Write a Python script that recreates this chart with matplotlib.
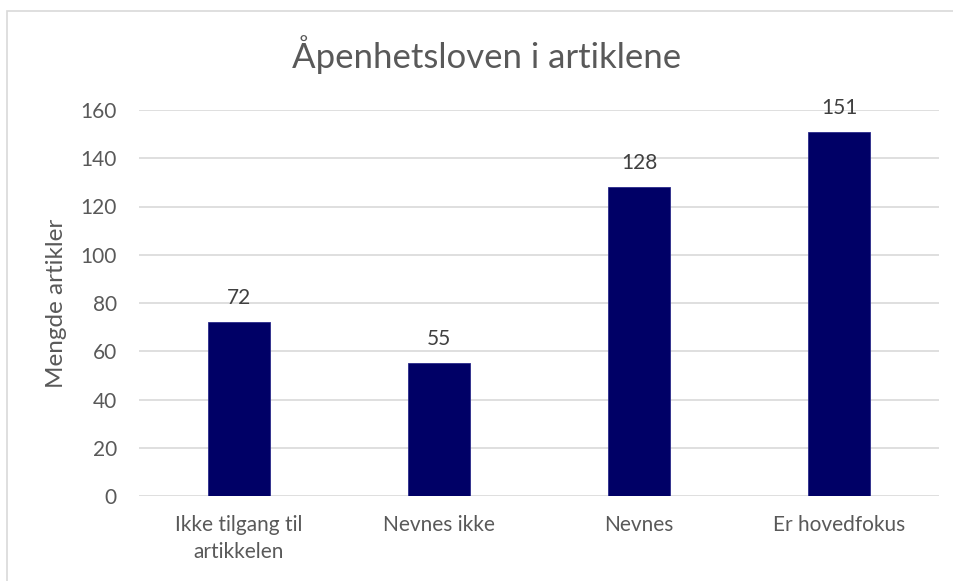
import matplotlib
matplotlib.use("Agg")
import matplotlib.pyplot as plt
from matplotlib.patches import Rectangle

categories = ["Ikke tilgang til\nartikkelen", "Nevnes ikke", "Nevnes", "Er hovedfokus"]
values = [72, 55, 128, 151]
yticks = [0, 20, 40, 60, 80, 100, 120, 140, 160]

W, H = 954, 581
plt.rcParams['font.family'] = ['Lato', 'DejaVu Sans']
fig = plt.figure(figsize=(W/100, H/100), dpi=100)

# chart frame (left and top edges visible)
fig.patches.append(Rectangle((7/W, -0.1), 1.2, 1 - 11/H + 0.1, transform=fig.transFigure,
                             fill=False, edgecolor='#d9d9d9', linewidth=1.2))

ax = fig.add_axes([139/W, 1 - 496/H, 800/W, (496 - 110)/H])
x = range(len(categories))
bars = ax.bar(x, values, width=0.31, color='#000066', edgecolor='#2a2a8a', linewidth=0.6, zorder=3)
ax.set_xlim(-0.5, len(categories) - 0.5)
ax.set_ylim(0, 160)
ax.set_yticks(yticks)
ax.set_yticklabels([str(t) for t in yticks])
ax.set_xticks(list(x))
ax.set_xticklabels(categories, linespacing=1.4)
ax.grid(axis='y', color='#d9d9d9', linewidth=1.2, zorder=0)
for s in ax.spines.values():
    s.set_visible(False)
ax.tick_params(axis='both', length=0, colors='#595959', labelsize=15)
ax.tick_params(axis='y', pad=16)
ax.tick_params(axis='x', pad=14)
for b, v in zip(bars, values):
    ax.annotate(str(v), (b.get_x() + b.get_width()/2, v), xytext=(0, 10),
                textcoords='offset points', ha='center', va='bottom',
                fontsize=15, color='#404040')
ax.set_ylabel("Mengde artikler", fontsize=17.5, color='#595959')
ax.yaxis.set_label_coords(-(139 - 67)/800, 0.5)
fig.text(487/W, 1 - 55/H, "Åpenhetsloven i artiklene", ha='center', va='center',
         fontsize=25, color='#595959')
fig.savefig("out.png", dpi=100)
